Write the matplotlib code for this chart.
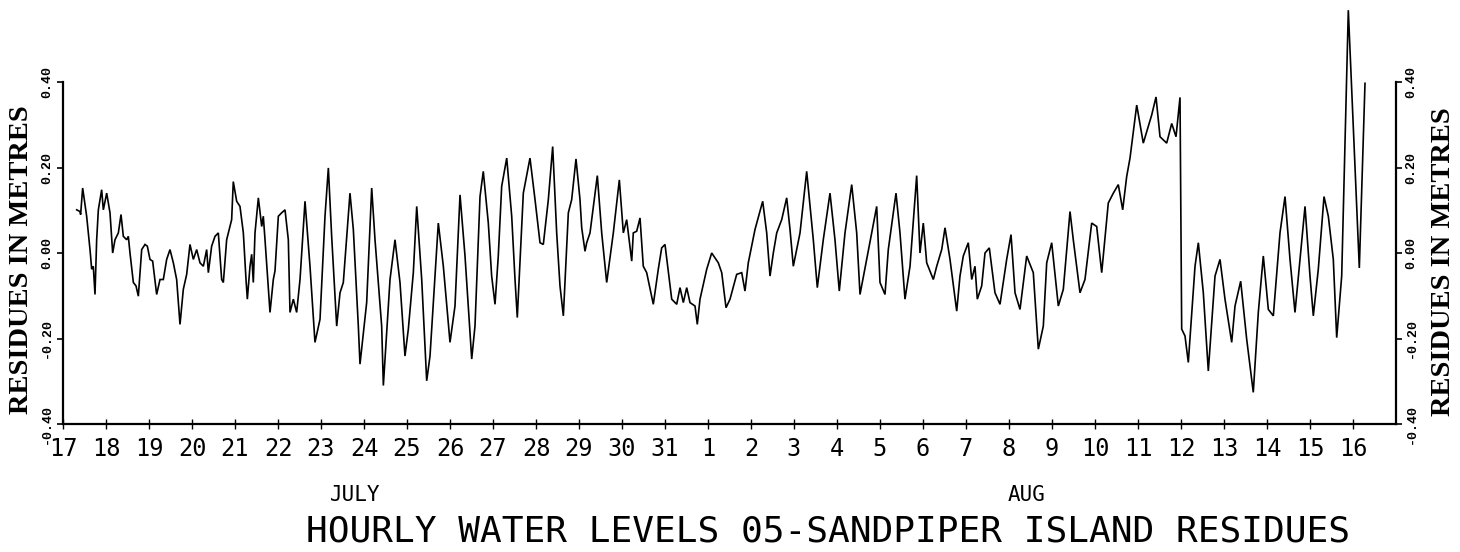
import matplotlib
matplotlib.use("Agg")
import matplotlib.pyplot as plt

# Hourly residual water level, Sandpiper Island (station 05).
# Time in days since 17 July 00:00, residual in metres.
days = [
    0.318, 0.395, 0.410, 0.457, 0.550, 0.628, 0.667, 0.705, 0.744, 0.783,
    0.822, 0.899, 0.938, 1.016, 1.093, 1.155, 1.209, 1.287, 1.349, 1.403,
    1.481, 1.519, 1.558, 1.636, 1.698, 1.752, 1.830, 1.907, 1.961, 2.023,
    2.085, 2.178, 2.256, 2.333, 2.411, 2.488, 2.566, 2.643, 2.721, 2.798,
    2.876, 2.953, 3.031, 3.109, 3.186, 3.264, 3.341, 3.380, 3.457, 3.535,
    3.612, 3.690, 3.729, 3.806, 3.922, 3.960, 4.039, 4.116, 4.194, 4.256,
    4.287, 4.349, 4.388, 4.426, 4.465, 4.543, 4.621, 4.658, 4.698, 4.814,
    4.891, 4.930, 5.008, 5.085, 5.163, 5.240, 5.279, 5.357, 5.434, 5.512,
    5.628, 5.744, 5.860, 5.977, 6.093, 6.171, 6.248, 6.365, 6.442, 6.519,
    6.674, 6.752, 6.868, 6.907, 7.062, 7.179, 7.256, 7.411, 7.450, 7.566,
    7.605, 7.721, 7.837, 7.953, 8.031, 8.147, 8.226, 8.342, 8.458, 8.535,
    8.728, 8.845, 9.000, 9.116, 9.233, 9.349, 9.505, 9.581, 9.698, 9.774,
    9.891, 9.969, 10.047, 10.123, 10.202, 10.319,
    10.435, 10.512, 10.565, 10.705, 10.860, 10.977, 11.093, 11.170, 11.287, 11.388,
    11.481, 11.558, 11.636, 11.752, 11.830, 11.930, 12.023, 12.063, 12.140, 12.179,
    12.256, 12.426, 12.528, 12.644, 12.798, 12.938, 13.031, 13.109, 13.226, 13.263,
    13.342, 13.419, 13.495, 13.574, 13.728, 13.844, 13.923, 14.000, 14.156, 14.272,
    14.349, 14.426, 14.505, 14.581, 14.698, 14.751, 14.814, 14.970, 15.086, 15.240,
    15.319, 15.419, 15.512, 15.667, 15.784, 15.860, 15.937, 16.093, 16.272, 16.365,
    16.442, 16.519, 16.598, 16.714, 16.830, 16.907, 16.984, 17.140, 17.295, 17.449,
    17.542, 17.681, 17.837, 17.953, 18.053, 18.186, 18.342, 18.458, 18.535, 18.691,
    18.807, 18.923, 19.000, 19.116, 19.193, 19.372, 19.465, 19.581, 19.698, 19.853,
    19.930, 20.007, 20.086, 20.240, 20.319, 20.435, 20.512, 20.628, 20.784, 20.860,
    20.937, 21.053, 21.133, 21.209, 21.263, 21.365, 21.442, 21.542, 21.674, 21.791,
    21.946, 22.047, 22.140, 22.256, 22.411, 22.565, 22.682, 22.798, 22.877, 22.993,
    23.147, 23.263, 23.419, 23.495, 23.651, 23.767, 23.923, 24.039, 24.156, 24.309,
    24.426, 24.542, 24.644, 24.737, 24.814, 24.970, 25.123, 25.319, 25.419, 25.512,
    25.667, 25.784, 25.884, 25.977, 26.016, 26.093, 26.170, 26.326, 26.403, 26.519,
    26.635, 26.791, 26.907, 27.023, 27.179, 27.256, 27.388, 27.528, 27.681, 27.798,
    27.914, 28.031, 28.147, 28.302, 28.419, 28.535, 28.651, 28.767, 28.884, 29.000,
    29.077, 29.193, 29.326, 29.426, 29.542, 29.621, 29.737, 29.891, 30.147, 30.279,
]

residue = [
    0.101, 0.097, 0.090, 0.152, 0.086, 0.008, -0.038, -0.031, -0.097, 0.031,
    0.101, 0.148, 0.101, 0.140, 0.094, 0.000, 0.031, 0.047, 0.090, 0.039,
    0.031, 0.039, 0.000, -0.069, -0.077, -0.101, 0.008, 0.020, 0.016, -0.015,
    -0.019, -0.097, -0.062, -0.062, -0.015, 0.008, -0.023, -0.062, -0.167, -0.085,
    -0.050, 0.020, -0.015, 0.008, -0.023, -0.031, 0.008, -0.046, 0.016, 0.039,
    0.047, -0.062, -0.069, 0.031, 0.078, 0.167, 0.121, 0.109, 0.047, -0.062,
    -0.108, -0.031, -0.003, -0.069, 0.047, 0.129, 0.062, 0.086, 0.031, -0.139,
    -0.062, -0.042, 0.086, 0.094, 0.101, 0.031, -0.139, -0.108, -0.139, -0.062,
    0.121, -0.031, -0.209, -0.155, 0.086, 0.199, 0.039, -0.171, -0.093, -0.069,
    0.140, 0.055, -0.171, -0.260, -0.116, 0.152, 0.031, -0.171, -0.310, -0.124,
    -0.062, 0.031, -0.069, -0.241, -0.178, -0.046, 0.109, -0.062, -0.299, -0.241,
    0.070, -0.031, -0.209, -0.124, 0.136, -0.007, -0.248, -0.171, 0.132, 0.191,
    0.070, -0.054, -0.120, -0.007, 0.156, 0.222,
    0.086, -0.062, -0.151, 0.140, 0.222, 0.125, 0.024, 0.020, 0.125, 0.249,
    0.047, -0.077, -0.147, 0.094, 0.125, 0.220, 0.125, 0.059, 0.004, 0.024,
    0.047, 0.181, 0.047, -0.069, 0.047, 0.171, 0.047, 0.078, -0.019, 0.047,
    0.051, 0.082, -0.031, -0.046, -0.120, -0.038, 0.012, 0.020, -0.108, -0.120,
    -0.081, -0.116, -0.081, -0.116, -0.124, -0.167, -0.108, -0.038, 0.000, -0.023,
    -0.046, -0.128, -0.108, -0.050, -0.046, -0.089, -0.023, 0.055, 0.121, 0.047,
    -0.054, 0.000, 0.047, 0.078, 0.129, 0.055, -0.031, 0.047, 0.191, 0.031,
    -0.081, 0.031, 0.140, 0.031, -0.089, 0.047, 0.160, 0.047, -0.097, -0.015,
    0.047, 0.109, -0.069, -0.097, 0.008, 0.140, 0.047, -0.108, -0.031, 0.181,
    0.000, 0.070, -0.023, -0.062, -0.031, 0.008, 0.059, -0.015, -0.136, -0.054,
    -0.007, 0.024, -0.062, -0.031, -0.108, -0.077, 0.000, 0.012, -0.093, -0.120,
    -0.015, 0.043, -0.093, -0.132, -0.007, -0.046, -0.225, -0.171, -0.023, 0.024,
    -0.124, -0.085, 0.097, 0.031, -0.093, -0.062, 0.070, 0.062, -0.046, 0.117,
    0.140, 0.160, 0.101, 0.179, 0.222, 0.346, 0.257, 0.323, 0.365, 0.272,
    0.257, 0.303, 0.272, 0.364, -0.178, -0.194, -0.256, -0.031, 0.024, -0.093,
    -0.276, -0.054, -0.015, -0.108, -0.209, -0.124, -0.066, -0.202, -0.326, -0.139,
    -0.007, -0.132, -0.147, 0.047, 0.132, -0.015, -0.139, -0.015, 0.109, -0.054,
    -0.147, -0.038, 0.132, 0.086, -0.015, -0.198, -0.054, 0.568, -0.035, 0.397,
]

day_labels = ["17", "18", "19", "20", "21", "22", "23", "24", "25", "26",
              "27", "28", "29", "30", "31", "1", "2", "3", "4", "5", "6",
              "7", "8", "9", "10", "11", "12", "13", "14", "15", "16"]
y_ticks = [-0.40, -0.20, 0.00, 0.20, 0.40]
y_tick_labels = ["-0.40", "-0.20", "0.00", "0.20", "0.40"]
month_names = ["JULY", "AUG"]
month_pos = [6.8, 22.4]
title = "HOURLY WATER LEVELS 05-SANDPIPER ISLAND RESIDUES"
y_title = "RESIDUES IN METRES"

W, H = 1460, 552
fig = plt.figure(figsize=(W / 100, H / 100), dpi=100)
fig.patch.set_facecolor("white")

ax = fig.add_axes([63 / W, 1 - 424 / H, (1396 - 63) / W, (424 - 82) / H])
ax.plot(days, residue, color="black", lw=1.2, clip_on=False,
        solid_joinstyle="miter")

ax.set_xlim(0, 31)
ax.set_ylim(-0.40, 0.40)
ax.spines["top"].set_visible(False)
for side in ("left", "right", "bottom"):
    ax.spines[side].set_linewidth(1.6)
    ax.spines[side].set_color("black")

plot_font = ["DejaVu Sans Mono"]

ax.set_xticks(range(len(day_labels)))
ax.set_xticklabels(day_labels, fontsize=17, family=plot_font)
ax.tick_params(axis="x", direction="inout", length=7, width=1.0, pad=6)

ax.set_yticks(y_ticks)
ax.set_yticklabels(y_tick_labels, fontsize=9.5,
                   family=["Liberation Mono"], weight="bold", rotation=90,
                   va="center")
ax.tick_params(axis="y", direction="out", length=4, width=1.2, pad=3,
               left=True, right=True, labelleft=True, labelright=True)

for name, pos in zip(month_names, month_pos):
    ax.text(pos, -0.565, name, ha="center", va="center", fontsize=15,
            family=plot_font, transform=ax.transData, clip_on=False)

fig.text(828 / W, 1 - 532 / H, title, ha="center", va="center",
         fontsize=26, family=plot_font)

fig.text(22 / W, 1 - 260 / H, y_title, rotation=90, ha="center",
         va="center", fontsize=20.5, family=["Liberation Serif"], weight="bold")
fig.text(1443 / W, 1 - 262 / H, y_title, rotation=90, ha="center",
         va="center", fontsize=20.5, family=["Liberation Serif"], weight="bold")

fig.savefig("out.png", dpi=100, facecolor="white")
